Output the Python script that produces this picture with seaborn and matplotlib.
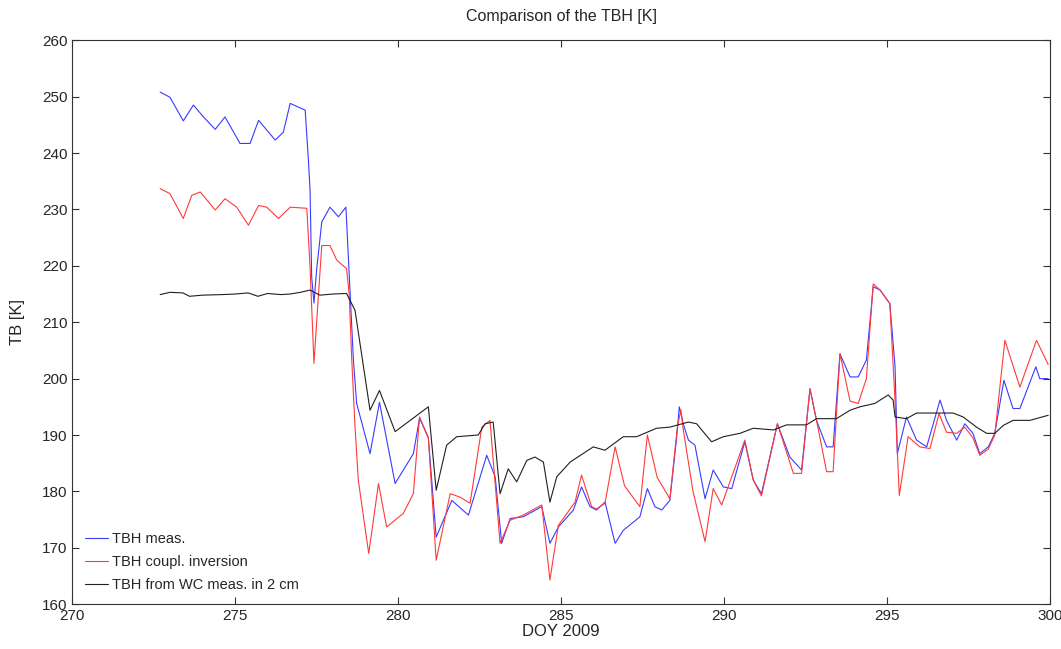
import numpy as np
import pandas as pd
import matplotlib
matplotlib.use("Agg")
import matplotlib.pyplot as plt
import seaborn as sns

# TBH measured (blue)
meas_doy = [272.70, 273.00, 273.41, 273.72, 274.03, 274.39, 274.69, 275.15, 275.46, 275.72,
            276.23, 276.48, 276.69, 277.15, 277.25, 277.30, 277.35, 277.42, 277.50, 277.66,
            277.91, 278.17, 278.40, 278.53, 278.63, 278.73, 279.14, 279.43, 279.91, 280.47,
            280.66, 280.93, 281.17, 281.65, 282.16, 282.72, 282.98, 283.18, 283.44, 283.84,
            284.41, 284.66, 284.92, 285.38, 285.63, 285.89, 286.09, 286.35, 286.66, 286.91,
            287.42, 287.65, 287.88, 288.09, 288.34, 288.55, 288.63, 288.75, 288.91, 289.11,
            289.42, 289.67, 289.98, 290.24, 290.64, 290.90, 291.15, 291.64, 292.02, 292.38,
            292.64, 292.84, 293.15, 293.35, 293.56, 293.87, 294.12, 294.37, 294.58, 294.79,
            295.09, 295.25, 295.32, 295.60, 295.91, 296.22, 296.63, 296.83, 297.14, 297.39,
            297.64, 297.85, 298.11, 298.31, 298.59, 298.87, 299.08, 299.57, 299.69, 299.95]
meas_tb = [250.8, 249.9, 245.7, 248.5, 246.4, 244.2, 246.4, 241.7, 241.7, 245.8,
           242.3, 243.7, 248.8, 247.6, 238.7, 233.4, 218.0, 213.4, 219.2, 227.8,
           230.4, 228.7, 230.4, 215.1, 203.3, 195.6, 186.7, 195.8, 181.4, 186.7,
           193.0, 189.5, 171.9, 178.4, 175.8, 186.4, 182.6, 170.8, 175.2, 175.5,
           177.3, 170.8, 173.7, 176.7, 180.8, 177.3, 176.7, 178.1, 170.8, 173.1,
           175.5, 180.5, 177.3, 176.7, 178.4, 189.7, 195.0, 192.0, 189.1, 188.2,
           178.7, 183.8, 180.8, 180.5, 188.8, 182.0, 179.6, 192.0, 186.1, 183.8,
           198.2, 192.6, 187.9, 187.9, 204.4, 200.3, 200.3, 203.3, 216.3, 215.7,
           213.3, 202.1, 186.7, 193.2, 189.1, 187.9, 196.2, 192.6, 189.1, 192.0,
           190.3, 186.7, 187.9, 190.3, 199.7, 194.7, 194.7, 202.1, 200.0, 200.0]

# TBH coupled inversion (red)
inv_doy = [272.70, 273.00, 273.41, 273.67, 273.93, 274.39, 274.69, 275.05, 275.41, 275.72,
           275.97, 276.33, 276.69, 277.20, 277.30, 277.42, 277.56, 277.66, 277.91, 278.12,
           278.42, 278.50, 278.58, 278.68, 278.78, 279.10, 279.40, 279.65, 280.16, 280.47,
           280.66, 280.93, 281.17, 281.60, 281.90, 282.21, 282.57, 282.82, 283.13, 283.44,
           283.84, 284.41, 284.66, 284.92, 285.43, 285.63, 285.94, 286.09, 286.35, 286.66,
           286.95, 287.42, 287.65, 287.95, 288.34, 288.57, 288.68, 288.75, 289.05, 289.42,
           289.67, 289.93, 290.64, 290.90, 291.15, 291.64, 292.13, 292.38, 292.64, 292.84,
           293.15, 293.35, 293.56, 293.87, 294.12, 294.37, 294.58, 294.79, 295.09, 295.25,
           295.38, 295.65, 296.01, 296.32, 296.60, 296.83, 297.14, 297.39, 297.64, 297.85,
           298.11, 298.31, 298.62, 299.08, 299.59, 299.95]
inv_tb = [233.7, 232.8, 228.4, 232.5, 233.1, 229.9, 231.9, 230.4, 227.2, 230.7,
          230.4, 228.4, 230.4, 230.2, 219.8, 202.7, 215.1, 223.6, 223.6, 221.0,
          219.5, 215.1, 203.3, 191.4, 182.0, 169.0, 181.4, 173.7, 176.1, 179.6,
          193.2, 189.5, 167.8, 179.6, 179.0, 177.9, 191.4, 192.6, 170.8, 174.9,
          175.8, 177.6, 164.3, 174.0, 178.1, 182.9, 177.3, 176.9, 177.9, 187.9,
          181.0, 177.3, 190.0, 182.5, 178.7, 191.4, 194.5, 191.0, 180.0, 171.1,
          180.5, 177.6, 189.1, 182.0, 179.2, 192.0, 183.2, 183.2, 198.2, 192.6,
          183.5, 183.5, 204.4, 196.0, 195.6, 200.0, 216.8, 215.7, 213.3, 196.0,
          179.3, 189.7, 187.9, 187.6, 193.8, 190.5, 190.3, 191.4, 189.5, 186.4,
          187.5, 190.0, 206.8, 198.5, 206.8, 202.5]

# TBH from WC meas. in 2 cm (black)
wc_doy = [272.70, 273.00, 273.40, 273.60, 274.00, 274.60, 275.00, 275.40, 275.70, 276.00,
          276.40, 276.69, 277.00, 277.30, 277.60, 278.00, 278.42, 278.68, 279.14, 279.43,
          279.91, 280.93, 281.17, 281.49, 281.80, 282.46, 282.67, 282.92, 283.13, 283.38,
          283.64, 283.95, 284.20, 284.46, 284.66, 284.87, 285.28, 285.99, 286.35, 286.91,
          287.32, 287.93, 288.34, 288.91, 289.16, 289.62, 289.98, 290.49, 290.90, 291.52,
          291.92, 292.53, 292.84, 293.45, 293.87, 294.17, 294.63, 295.04, 295.19, 295.25,
          295.60, 295.91, 296.42, 297.03, 297.34, 297.75, 298.06, 298.31, 298.57, 298.87,
          299.39, 299.95]
wc_tb = [214.9, 215.3, 215.2, 214.6, 214.8, 214.9, 215.0, 215.2, 214.6, 215.1,
         214.9, 215.0, 215.3, 215.7, 214.8, 215.0, 215.1, 212.1, 194.4, 197.9,
         190.6, 195.0, 180.2, 188.2, 189.7, 190.0, 192.0, 192.3, 179.6, 184.0,
         181.7, 185.5, 186.1, 185.2, 178.1, 182.6, 185.2, 187.9, 187.3, 189.7,
         189.7, 191.2, 191.4, 192.3, 192.0, 188.8, 189.7, 190.3, 191.2, 190.9,
         191.8, 191.8, 192.9, 192.9, 194.4, 195.0, 195.6, 197.1, 196.2, 193.2,
         192.9, 193.9, 193.9, 193.9, 193.2, 191.4, 190.3, 190.3, 191.7, 192.6,
         192.6, 193.5]

labels = ['TBH meas.', 'TBH coupl. inversion', 'TBH from WC meas. in 2 cm']
colors = ['#3a3aff', '#ff3a3a', '#202020']

df = pd.concat([
    pd.DataFrame({'doy': meas_doy, 'tb': meas_tb, 'series': labels[0]}),
    pd.DataFrame({'doy': inv_doy, 'tb': inv_tb, 'series': labels[1]}),
    pd.DataFrame({'doy': wc_doy, 'tb': wc_tb, 'series': labels[2]}),
])

sns.set_style('ticks')
plt.rcParams['font.family'] = ['Liberation Sans', 'DejaVu Sans']

fig, ax = plt.subplots(figsize=(10.61, 6.49), dpi=100)
fig.subplots_adjust(left=0.068, right=0.9895, top=0.938, bottom=0.069)

sns.lineplot(data=df, x='doy', y='tb', hue='series', palette=colors,
             hue_order=labels, linewidth=0.8, sort=False, ax=ax)

ax.set_xlim(270, 300)
ax.set_ylim(160, 260)
ax.set_xticks(np.arange(270, 301, 5))
ax.set_yticks(np.arange(160, 261, 10))
ax.tick_params(direction='in', top=True, right=True, labelsize=11, length=5,
               width=0.8, color='#333333')
for s in ax.spines.values():
    s.set_color('#333333')
    s.set_linewidth(0.8)

ax.set_title('Comparison of the TBH [K]', fontsize=11.5, pad=14)
ax.set_xlabel('DOY 2009', fontsize=12, labelpad=1)
ax.set_ylabel('TB [K]', fontsize=12, labelpad=12)

ax.legend(loc='lower left', frameon=False, fontsize=10.5, handlelength=1.6,
          handletextpad=0.3, labelspacing=0.62, borderaxespad=0.45)

plt.savefig('out.png', dpi=100)
